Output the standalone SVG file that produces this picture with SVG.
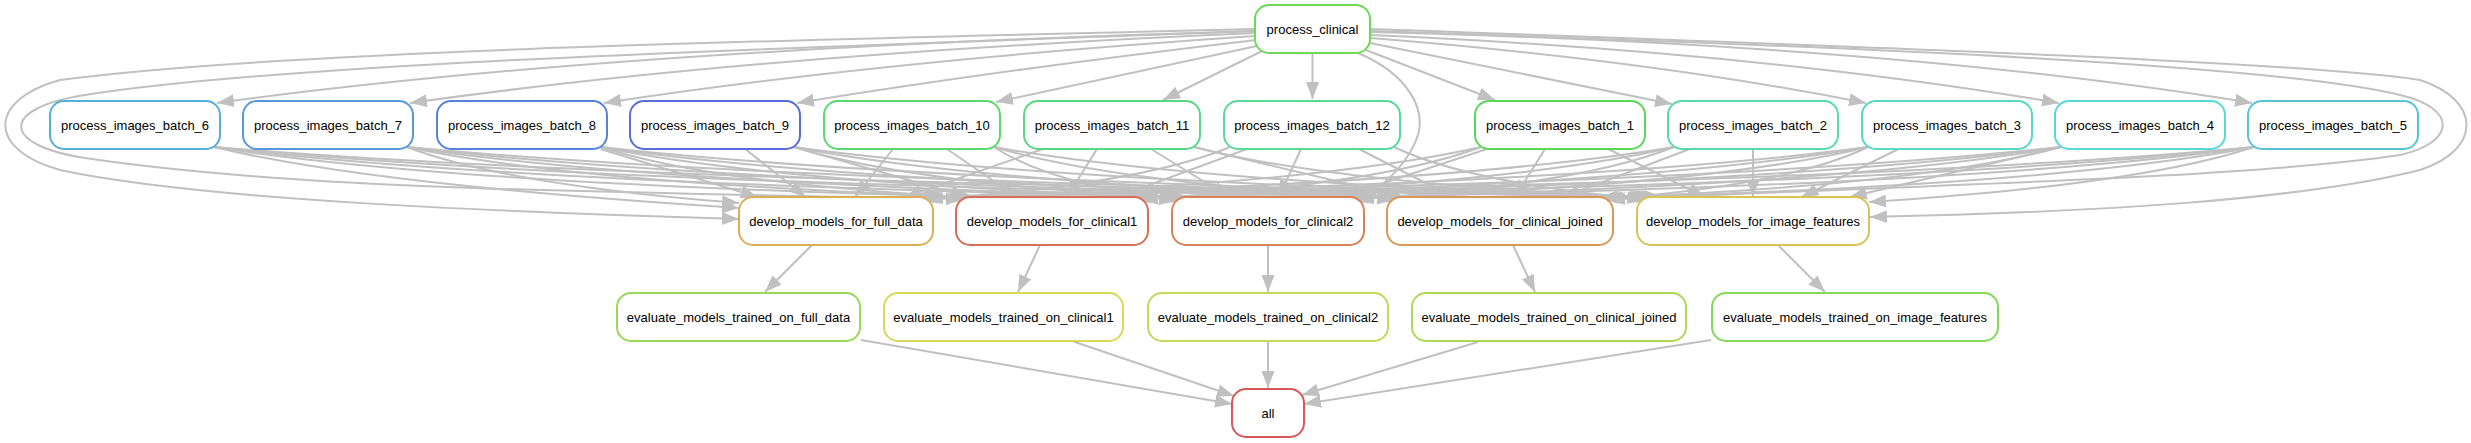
<svg xmlns="http://www.w3.org/2000/svg" width="2471" height="443" viewBox="0 0 2471 443">
<defs>
<marker id="arr" markerUnits="userSpaceOnUse" markerWidth="18" markerHeight="14" refX="17" refY="7" orient="auto">
<path d="M0,0.5 L17,7 L0,13.5 z" fill="#c0c0c0"/>
</marker>
</defs>
<style>
.edges path{fill:none;stroke:#c0c0c0;stroke-width:2;marker-end:url(#arr)}
.node rect{fill:#ffffff;stroke-width:2}
.node text{font-family:'Liberation Sans',Arial,Helvetica,sans-serif;font-size:13px;text-anchor:middle;fill:#000}
</style>
<rect x="0" y="0" width="2471" height="443" fill="#ffffff"/>
<g id="connectors" class="edges">
<!-- process_clinical -> batches -->
<path d="M1255,31 Q600,50 217,103"/>
<path d="M1255,33 Q750,55 410,103"/>
<path d="M1255,36 Q870,62 604,103"/>
<path d="M1256,40 Q1000,70 797,103"/>
<path d="M1257,46 L996,102"/>
<path d="M1262,51 L1163,100"/>
<path d="M1312.5,53 L1312.5,99"/>
<path d="M1366,50 L1495,100"/>
<path d="M1370,43 L1672,104"/>
<path d="M1370,38 Q1650,60 1866,103"/>
<path d="M1370,35 Q1760,52 2059,103"/>
<path d="M1370,32 Q1900,45 2252,103"/>
<!-- process_clinical -> develop (routed) -->
<path d="M1255,29 C900,38 300,48 60,80 C-13,100 -13,150 60,170 C200,200 500,212 739,219"/>
<path d="M1255,31 C900,45 300,60 85,95 C0,108 0,145 85,158 C300,190 600,192 963,199"/>
<path d="M1358,53 C1410,75 1425,110 1418,135 C1410,160 1390,180 1361,202"/>
<path d="M1370,29 C1900,48 2300,62 2420,80 C2482,100 2482,150 2420,170 C2300,200 2100,212 1870,217"/>
<path d="M1370,31 C1900,48 2280,66 2400,95 C2457,108 2457,142 2400,155 C2250,178 1900,186 1608,199.5"/>
<!-- batches -> develop_models_for_full_data -->
<path d="M214,147 Q371.5,185 739,208"/>
<path d="M407,147 Q506.6,185 739,203"/>
<path d="M600.5,149 L757.5,197"/>
<path d="M745.25,149 L805.75,197"/>
<path d="M893,149 L855,197"/>
<path d="M1043,149 L905,197"/>
<path d="M1230,147 Q1138.8,185 926,199"/>
<path d="M1481,147 Q1314.5,185 923,198"/>
<path d="M1674,147 Q1449.6,185 920,197.5"/>
<path d="M1868,147 Q1582.7,185 917,197"/>
<path d="M2061,147 Q1716,185 914,197"/>
<path d="M2254,147 Q1850,185 911,197"/>
<!-- batches -> develop_models_for_clinical1 -->
<path d="M214,147 Q438.7,183 975,197"/>
<path d="M407,147 Q575.6,183 971,197"/>
<path d="M601,147 Q710.5,183 967,197.5"/>
<path d="M794,147 L967.75,197"/>
<path d="M947,149 L1017,197"/>
<path d="M1097,149 L1067,197"/>
<path d="M1247,149 L1117,197"/>
<path d="M1481,147 Q1379,185 1141,199"/>
<path d="M1674,147 Q1513,185 1138,198"/>
<path d="M1868,147 Q1648,185 1135,197.5"/>
<path d="M2061,147 Q1782,185 1132,197"/>
<path d="M2254,147 Q1916.5,185 1129,197"/>
<!-- batches -> develop_models_for_clinical2 -->
<path d="M214,147 Q503.5,183 1188,197"/>
<path d="M407,147 Q640.4,183 1185,197"/>
<path d="M601,147 Q775.3,183 1182,197.5"/>
<path d="M794,147 Q909.5,183 1179,198.5"/>
<path d="M994,147 Q1048.6,183 1176,201"/>
<path d="M1151,149 L1229,197"/>
<path d="M1301,149 L1279,197"/>
<path d="M1487,149 L1341,197"/>
<path d="M1674,147 Q1578.9,185 1357,199"/>
<path d="M1868,147 Q1713.8,185 1354,198"/>
<path d="M2061,147 Q1848.9,185 1351,197.5"/>
<path d="M2254,147 Q1984,185 1348,197"/>
<!-- batches -> develop_models_for_clinical_joined -->
<path d="M214,147 Q571.6,183 1406,197"/>
<path d="M407,147 Q705.8,183 1403,197"/>
<path d="M601,147 Q840.7,183 1400,197"/>
<path d="M794,147 Q975,183 1397,197.6"/>
<path d="M994,147 Q1114,183 1394,199"/>
<path d="M1194,147 L1403,197"/>
<path d="M1359,149 L1453,197"/>
<path d="M1545,149 L1515,197"/>
<path d="M1689.75,149 L1563.25,197"/>
<path d="M1868,147 Q1789.4,185 1606,199"/>
<path d="M2061,147 Q1923.6,185 1603,198"/>
<path d="M2254,147 Q2057.8,185 1600,197.5"/>
<!-- batches -> develop_models_for_image_features -->
<path d="M214,147 Q648.4,183 1662,197"/>
<path d="M407,147 Q782.6,183 1659,197"/>
<path d="M601,147 Q917.5,183 1656,197"/>
<path d="M794,147 Q1051.7,183 1653,197"/>
<path d="M994,147 Q1190.8,183 1650,197"/>
<path d="M1194,147 Q1329.9,183 1647,197.6"/>
<path d="M1394,147 Q1469,183 1644,199"/>
<path d="M1608.25,149 L1704.75,197"/>
<path d="M1753,149 L1753,197"/>
<path d="M1898.5,149 L1801.5,197"/>
<path d="M2061,147 L1849.75,197"/>
<path d="M2254,147 Q2138.5,185 1869,202"/>
<!-- develop -> evaluate -->
<path d="M812,245 L765,292"/>
<path d="M1040,245 L1018,292"/>
<path d="M1268,245 L1268,292"/>
<path d="M1513,245 L1535,292"/>
<path d="M1778,245 L1825,292"/>
<!-- evaluate -> all -->
<path d="M861,340 L1232,404"/>
<path d="M1072,341 L1234,396"/>
<path d="M1268,341 L1268,388"/>
<path d="M1478,342 L1302,395"/>
<path d="M1711,340 L1304,404"/>
</g>
<g id="process_clinical" class="node"><rect x="1255" y="5" width="115" height="48" rx="14" stroke="#6dd957"/><text x="1312.5" y="33.7">process_clinical</text></g>
<g id="process_images_batch_6" class="node"><rect x="50" y="101" width="170" height="48" rx="14" stroke="#57aed9"/><text x="135" y="129.7">process_images_batch_6</text></g>
<g id="process_images_batch_7" class="node"><rect x="243" y="101" width="170" height="48" rx="14" stroke="#5798d9"/><text x="328" y="129.7">process_images_batch_7</text></g>
<g id="process_images_batch_8" class="node"><rect x="437" y="101" width="170" height="48" rx="14" stroke="#5782d9"/><text x="522" y="129.7">process_images_batch_8</text></g>
<g id="process_images_batch_9" class="node"><rect x="630" y="101" width="170" height="48" rx="14" stroke="#576dd9"/><text x="715" y="129.7">process_images_batch_9</text></g>
<g id="process_images_batch_10" class="node"><rect x="824" y="101" width="176" height="48" rx="14" stroke="#57d96d"/><text x="912" y="129.7">process_images_batch_10</text></g>
<g id="process_images_batch_11" class="node"><rect x="1024" y="101" width="176" height="48" rx="14" stroke="#57d982"/><text x="1112" y="129.7">process_images_batch_11</text></g>
<g id="process_images_batch_12" class="node"><rect x="1224" y="101" width="176" height="48" rx="14" stroke="#57d998"/><text x="1312" y="129.7">process_images_batch_12</text></g>
<g id="process_images_batch_1" class="node"><rect x="1475" y="101" width="170" height="48" rx="14" stroke="#57d957"/><text x="1560" y="129.7">process_images_batch_1</text></g>
<g id="process_images_batch_2" class="node"><rect x="1668" y="101" width="170" height="48" rx="14" stroke="#57d9ae"/><text x="1753" y="129.7">process_images_batch_2</text></g>
<g id="process_images_batch_3" class="node"><rect x="1862" y="101" width="170" height="48" rx="14" stroke="#57d9c3"/><text x="1947" y="129.7">process_images_batch_3</text></g>
<g id="process_images_batch_4" class="node"><rect x="2055" y="101" width="170" height="48" rx="14" stroke="#57d9d9"/><text x="2140" y="129.7">process_images_batch_4</text></g>
<g id="process_images_batch_5" class="node"><rect x="2248" y="101" width="170" height="48" rx="14" stroke="#57c3d9"/><text x="2333" y="129.7">process_images_batch_5</text></g>
<g id="develop_models_for_full_data" class="node"><rect x="739" y="197" width="194" height="48" rx="14" stroke="#d9ae57"/><text x="836" y="225.7">develop_models_for_full_data</text></g>
<g id="develop_models_for_clinical1" class="node"><rect x="956" y="197" width="192" height="48" rx="14" stroke="#d96d57"/><text x="1052" y="225.7">develop_models_for_clinical1</text></g>
<g id="develop_models_for_clinical2" class="node"><rect x="1172" y="197" width="192" height="48" rx="14" stroke="#d98257"/><text x="1268" y="225.7">develop_models_for_clinical2</text></g>
<g id="develop_models_for_clinical_joined" class="node"><rect x="1387" y="197" width="226" height="48" rx="14" stroke="#d99857"/><text x="1500" y="225.7">develop_models_for_clinical_joined</text></g>
<g id="develop_models_for_image_features" class="node"><rect x="1637" y="197" width="232" height="48" rx="14" stroke="#d9c357"/><text x="1753" y="225.7">develop_models_for_image_features</text></g>
<g id="evaluate_models_trained_on_full_data" class="node"><rect x="617" y="293" width="243" height="48" rx="14" stroke="#98d957"/><text x="738.5" y="321.7">evaluate_models_trained_on_full_data</text></g>
<g id="evaluate_models_trained_on_clinical1" class="node"><rect x="884" y="293" width="239" height="48" rx="14" stroke="#d9d957"/><text x="1003.5" y="321.7">evaluate_models_trained_on_clinical1</text></g>
<g id="evaluate_models_trained_on_clinical2" class="node"><rect x="1148" y="293" width="240" height="48" rx="14" stroke="#c3d957"/><text x="1268" y="321.7">evaluate_models_trained_on_clinical2</text></g>
<g id="evaluate_models_trained_on_clinical_joined" class="node"><rect x="1412" y="293" width="274" height="48" rx="14" stroke="#aed957"/><text x="1549" y="321.7">evaluate_models_trained_on_clinical_joined</text></g>
<g id="evaluate_models_trained_on_image_features" class="node"><rect x="1712" y="293" width="286" height="48" rx="14" stroke="#82d957"/><text x="1855" y="321.7">evaluate_models_trained_on_image_features</text></g>
<g id="all" class="node"><rect x="1232" y="389" width="72" height="48" rx="14" stroke="#d95757"/><text x="1268" y="417.7">all</text></g>
</svg>
